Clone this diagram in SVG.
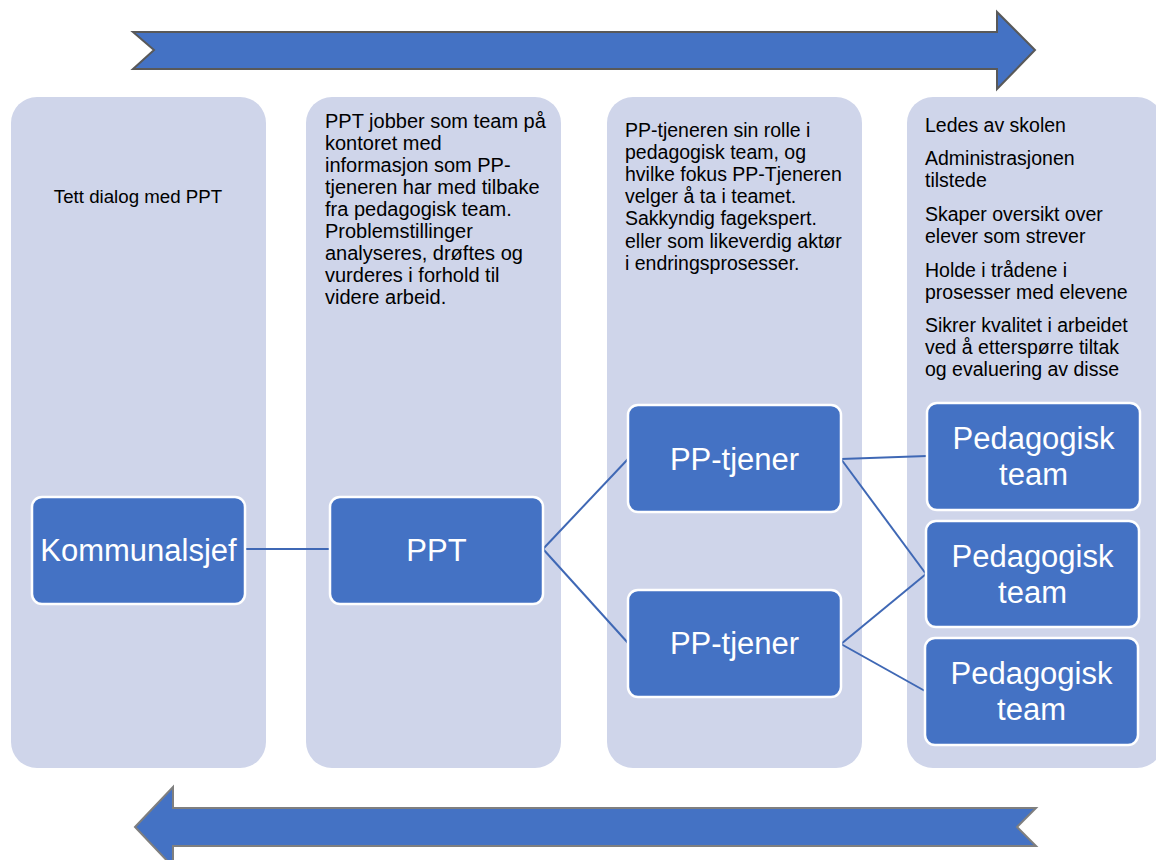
<svg xmlns="http://www.w3.org/2000/svg" width="1156" height="860" viewBox="0 0 1156 860">
<style>
.col{fill:#CFD5EA;}
.node rect{fill:#4472C4;stroke:#FFFFFF;stroke-width:2.5;}
.nt{font-family:"Liberation Sans",Arial,sans-serif;font-size:31px;fill:#FFFFFF;text-anchor:middle;}
.ct{font-family:"Liberation Sans",Arial,sans-serif;fill:#000000;}
.conn line{stroke:#3F68B5;stroke-width:2;}
</style>
<rect width="1156" height="860" fill="#FFFFFF"/>
<g id="arrow-top">
<polygon points="133,32 997,32 997,12 1035,50 997,89 997,69 133,69 154,50" fill="#4472C4" stroke="#595959" stroke-width="2"/>
</g>
<g id="arrow-bottom">
<polygon points="135,827 173,787 173,808 1036,808 1017,827 1036,846 173,846 173,867" fill="#4472C4" stroke="#7F7F7F" stroke-width="2"/>
</g>
<g id="col1">
<rect class="col" x="11" y="97" width="255" height="671" rx="26"/>
<text class="ct" x="138" y="203" font-size="18.7" text-anchor="middle">Tett dialog med PPT</text>
</g>
<g id="col2">
<rect class="col" x="306" y="97" width="255" height="671" rx="26"/>
<text class="ct" font-size="20">
<tspan x="325" y="128">PPT jobber som team på</tspan>
<tspan x="325" y="150">kontoret med</tspan>
<tspan x="325" y="172">informasjon som PP-</tspan>
<tspan x="325" y="194">tjeneren har med tilbake</tspan>
<tspan x="325" y="216">fra pedagogisk team.</tspan>
<tspan x="325" y="238">Problemstillinger</tspan>
<tspan x="325" y="260">analyseres, drøftes og</tspan>
<tspan x="325" y="282">vurderes i forhold til</tspan>
<tspan x="325" y="304">videre arbeid.</tspan>
</text>
</g>
<g id="col3">
<rect class="col" x="607" y="97" width="255" height="671" rx="26"/>
<text class="ct" font-size="19.5">
<tspan x="625" y="136.5">PP-tjeneren sin rolle i</tspan>
<tspan x="625" y="158.7">pedagogisk team, og</tspan>
<tspan x="625" y="180.9">hvilke fokus PP-Tjeneren</tspan>
<tspan x="625" y="203.1">velger å ta i teamet.</tspan>
<tspan x="625" y="225.3">Sakkyndig fagekspert.</tspan>
<tspan x="625" y="247.5">eller som likeverdig aktør</tspan>
<tspan x="625" y="269.7">i endringsprosesser.</tspan>
</text>
</g>
<g id="col4">
<rect class="col" x="907" y="97" width="256" height="671" rx="26"/>
<text class="ct" font-size="19.5">
<tspan x="925" y="132">Ledes av skolen</tspan>
<tspan x="925" y="165">Administrasjonen</tspan>
<tspan x="925" y="187">tilstede</tspan>
<tspan x="925" y="221">Skaper oversikt over</tspan>
<tspan x="925" y="243">elever som strever</tspan>
<tspan x="925" y="276.5">Holde i trådene i</tspan>
<tspan x="925" y="298.5">prosesser med elevene</tspan>
<tspan x="925" y="332">Sikrer kvalitet i arbeidet</tspan>
<tspan x="925" y="354">ved å etterspørre tiltak</tspan>
<tspan x="925" y="376">og evaluering av disse</tspan>
</text>
</g>
<g id="connectors" class="conn">
<line x1="245" y1="549" x2="330" y2="549"/>
<line x1="543" y1="549" x2="628" y2="459"/>
<line x1="543" y1="549" x2="628" y2="643"/>
<line x1="841" y1="459" x2="927" y2="456"/>
<line x1="841" y1="459" x2="926" y2="574"/>
<line x1="841" y1="644" x2="926" y2="574"/>
<line x1="841" y1="644" x2="925" y2="691"/>
</g>
<g id="kommunalsjef" class="node">
<rect x="32" y="497" width="213" height="107" rx="10"/>
<text class="nt" x="138.5" y="561">Kommunalsjef</text>
</g>
<g id="ppt" class="node">
<rect x="330" y="497" width="213" height="107" rx="10"/>
<text class="nt" x="436.5" y="561">PPT</text>
</g>
<g id="pp-tjener-1" class="node">
<rect x="628" y="405" width="213" height="107" rx="10"/>
<text class="nt" x="734.5" y="470">PP-tjener</text>
</g>
<g id="pp-tjener-2" class="node">
<rect x="628" y="590" width="213" height="107" rx="10"/>
<text class="nt" x="734.5" y="654">PP-tjener</text>
</g>
<g id="ped-team-1" class="node">
<rect x="927" y="403" width="213" height="107" rx="10"/>
<text class="nt" x="1033.5" y="449">Pedagogisk</text>
<text class="nt" x="1033.5" y="485">team</text>
</g>
<g id="ped-team-2" class="node">
<rect x="926" y="521" width="213" height="106" rx="10"/>
<text class="nt" x="1032.5" y="567">Pedagogisk</text>
<text class="nt" x="1032.5" y="603">team</text>
</g>
<g id="ped-team-3" class="node">
<rect x="925" y="638" width="213" height="107" rx="10"/>
<text class="nt" x="1031.5" y="684">Pedagogisk</text>
<text class="nt" x="1031.5" y="720">team</text>
</g>
</svg>
